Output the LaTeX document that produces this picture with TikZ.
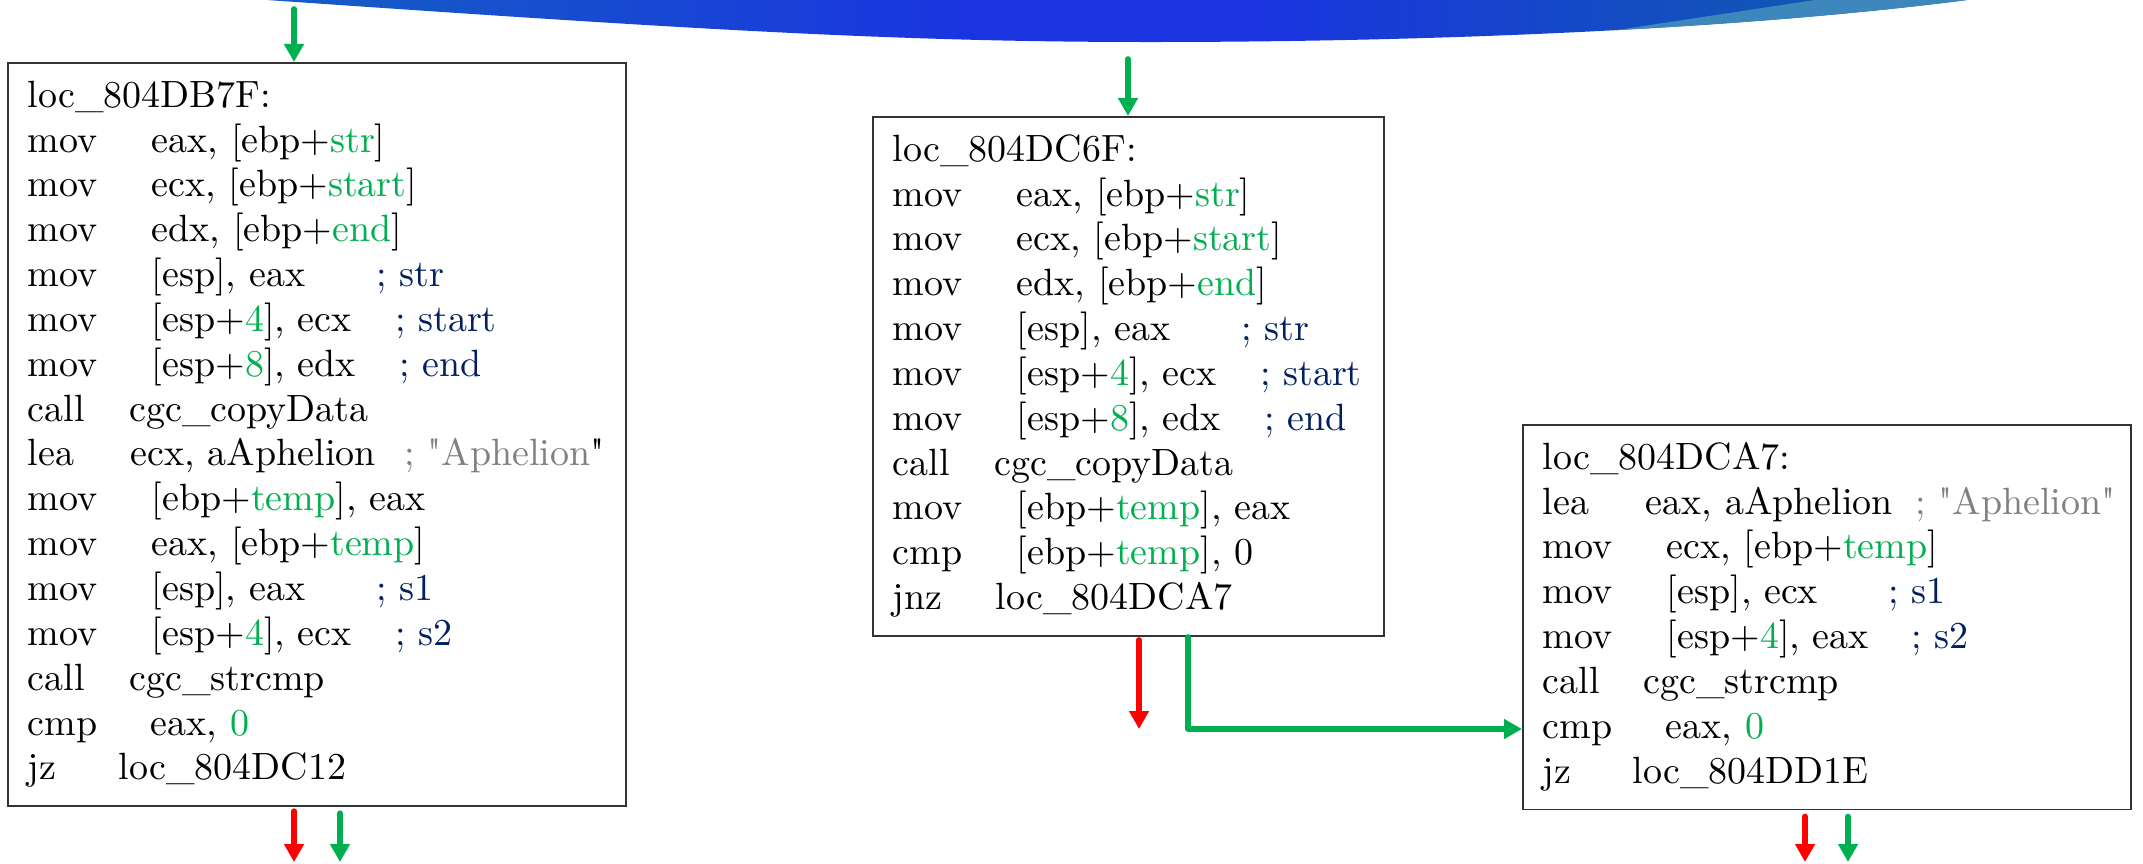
\documentclass[tikz,border=0pt]{standalone}
\definecolor{cfgGreen}{HTML}{00B050}
\definecolor{cfgRed}{HTML}{FF0000}
\definecolor{cfgNavy}{HTML}{002060}
\definecolor{cfgGray}{HTML}{808080}
\definecolor{bannerL}{HTML}{155EC4}
\definecolor{bannerM}{HTML}{1A34E0}
\definecolor{bannerR}{HTML}{0E62A8}
\definecolor{bannerLight}{HTML}{3E87BD}
\usetikzlibrary{arrows.meta}

\newcommand{\vr}[1]{\textcolor{cfgGreen}{#1}}
\newcommand{\cmt}[1]{\textcolor{cfgNavy}{#1}}
\newcommand{\op}[2]{\makebox[#1cm][l]{#2}}
\newcommand{\upto}[2]{\makebox[#1cm][l]{#2}}
\newcommand{\qq}{\textquotedbl}
\pgfdeclarehorizontalshading{bannerShade}{100bp}{color(0bp)=(bannerL); color(25bp)=(bannerL);
  color(46bp)=(bannerM); color(54bp)=(bannerM); color(75bp)=(bannerR); color(100bp)=(bannerR)}

\begin{document}
\begin{tikzpicture}[x=0.01cm, y=-0.01cm,
    codebox/.style={draw=black!80, line width=0.5pt, fill=white, anchor=north west,
      align=left, inner xsep=0.2cm, inner ysep=0.13cm,
      font=\fontsize{10.8}{12.75}\selectfont},
    flow/.style={line width=1.6pt, line cap=round, line join=round,
      -{Triangle[width=0.19cm,length=0.18cm]}},
    taken/.style={flow, cfgGreen},
    fallthru/.style={flow, cfgRed}]
  \useasboundingbox (0,0) rectangle (2143,863);

  % slide banner at the top
  \begin{scope}
    \clip (267,0) .. controls (700,30) and (900,42) .. (1150,42)
      .. controls (1450,42) and (1750,28) .. (1967,0) -- cycle;
    \shade[shading=bannerShade] (267,0) rectangle (1967,45);
    \fill[bannerLight] (1815,0) -- (1970,0) -- (1970,50) -- (1485,50) -- cycle;
  \end{scope}

  % basic blocks
  \node[codebox, text width=5.78cm] (blkA) at (7,62) {\strut loc\_804DB7F:\\
    \op{1.24}{mov}eax, [ebp+\vr{str}]\\
    \op{1.24}{mov}ecx, [ebp+\vr{start}]\\
    \op{1.24}{mov}edx, [ebp+\vr{end}]\\
    \upto{3.48}{\op{1.24}{mov}[esp], eax}\cmt{; str}\\
    \upto{3.67}{\op{1.24}{mov}[esp+\vr{4}], ecx}\cmt{; start}\\
    \upto{3.71}{\op{1.24}{mov}[esp+\vr{8}], edx}\cmt{; end}\\
    \op{1.015}{call}cgc\_copyData\\
    \mbox{\upto{3.76}{\op{1.03}{lea}ecx, aAphelion}\textcolor{cfgGray}{; \qq Aphelion}\qq}\\
    \op{1.24}{mov}[ebp+\vr{temp}], eax\\
    \op{1.24}{mov}eax, [ebp+\vr{temp}]\\
    \upto{3.48}{\op{1.24}{mov}[esp], eax}\cmt{; s1}\\
    \upto{3.67}{\op{1.24}{mov}[esp+\vr{4}], ecx}\cmt{; s2}\\
    \op{1.015}{call}cgc\_strcmp\\
    \op{1.23}{cmp}eax, \vr{0}\\
    \op{0.91}{jz}loc\_804DC12\strut};

  \node[codebox, text width=4.71cm] (blkB) at (872,116) {\strut loc\_804DC6F:\\
    \op{1.24}{mov}eax, [ebp+\vr{str}]\\
    \op{1.24}{mov}ecx, [ebp+\vr{start}]\\
    \op{1.24}{mov}edx, [ebp+\vr{end}]\\
    \upto{3.48}{\op{1.24}{mov}[esp], eax}\cmt{; str}\\
    \upto{3.67}{\op{1.24}{mov}[esp+\vr{4}], ecx}\cmt{; start}\\
    \upto{3.71}{\op{1.24}{mov}[esp+\vr{8}], edx}\cmt{; end}\\
    \op{1.015}{call}cgc\_copyData\\
    \op{1.24}{mov}[ebp+\vr{temp}], eax\\
    \op{1.24}{cmp}[ebp+\vr{temp}], 0\\
    \op{1.03}{jnz}loc\_804DCA7\strut};

  \node[codebox, text width=5.68cm] (blkC) at (1522,424) {\strut loc\_804DCA7:\\
    \mbox{\upto{3.72}{\op{1.03}{lea}eax, aAphelion}\textcolor{cfgGray}{; \qq Aphelion\qq}}\\
    \op{1.24}{mov}ecx, [ebp+\vr{temp}]\\
    \upto{3.45}{\op{1.24}{mov}[esp], ecx}\cmt{; s1}\\
    \upto{3.68}{\op{1.24}{mov}[esp+\vr{4}], eax}\cmt{; s2}\\
    \op{1.005}{call}cgc\_strcmp\\
    \op{1.23}{cmp}eax, \vr{0}\\
    \op{0.90}{jz}loc\_804DD1E\strut};

  % edges in and out
  \coordinate (inA) at (294,9);
  \coordinate (inB) at (1128,59);
  \draw[taken] (inA) -- (inA |- blkA.north);
  \draw[taken] (inB) -- (inB |- blkB.north);

  \coordinate (outAf) at (294,862);
  \coordinate (outAt) at (340,862);
  \draw[fallthru, shorten <=0.04cm] (outAf |- blkA.south) -- (outAf);
  \draw[taken, shorten <=0.06cm] (outAt |- blkA.south) -- (outAt);

  \coordinate (outBf) at (1139,729);
  \coordinate (bendB) at (1188,729);
  \draw[fallthru, shorten <=0.03cm] (outBf |- blkB.south) -- (outBf);
  \draw[taken] (bendB |- blkB.south) -- (bendB) -- (bendB -| blkC.west);

  \coordinate (outCf) at (1805,862);
  \coordinate (outCt) at (1848,862);
  \draw[fallthru, shorten <=0.06cm] (outCf |- blkC.south) -- (outCf);
  \draw[taken, shorten <=0.06cm] (outCt |- blkC.south) -- (outCt);
\end{tikzpicture}
\end{document}
